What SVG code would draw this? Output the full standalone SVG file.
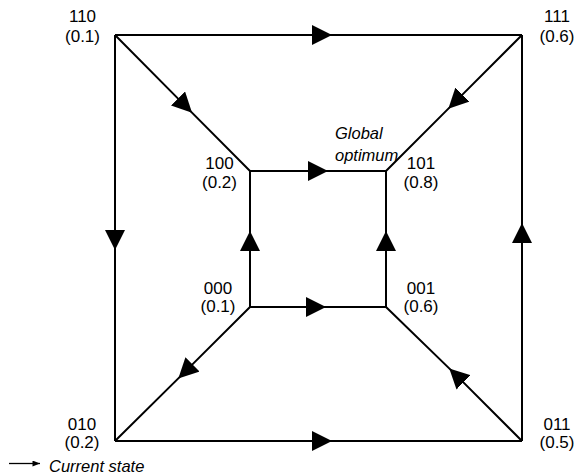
<svg xmlns="http://www.w3.org/2000/svg" width="580" height="475" viewBox="0 0 580 475">
<style>
.e{fill:none;stroke:#000;stroke-width:2;marker-mid:url(#ah)}
.t{font-family:"Liberation Sans",Arial,sans-serif;font-size:17px;fill:#000;text-anchor:middle}
.i{font-family:"Liberation Sans",Arial,sans-serif;font-size:16.5px;font-style:italic;fill:#000}
</style>
<defs>
<marker id="ah" viewBox="0 0 20 20" refX="10" refY="10" markerWidth="20" markerHeight="20" markerUnits="userSpaceOnUse" orient="auto">
<path d="M0,0 L20,10 L0,20 z" fill="#000"/>
</marker>
<marker id="sm" viewBox="0 0 10 8" refX="10" refY="4" markerWidth="9" markerHeight="6" markerUnits="userSpaceOnUse" orient="auto">
<path d="M0,0 L10,4 L0,8 z" fill="#000"/>
</marker>
</defs>
<rect width="580" height="475" fill="#fff"/>
<g id="connectors">
<path class="e" d="M115,35 L322,35 L522,35"/>
<path class="e" d="M115,441 L322,441 L522,441"/>
<path class="e" d="M115,35 L115,240 L115,441"/>
<path class="e" d="M522,441 L522,233 L522,35"/>
<path class="e" d="M250,171 L318,171 L386,171"/>
<path class="e" d="M250,307 L316,307 L386,307"/>
<path class="e" d="M250,307 L250,241 L250,171"/>
<path class="e" d="M386,307 L386,241 L386,171"/>
<path class="e" d="M115,35 L185,105.6 L250,171"/>
<path class="e" d="M522,35 L455.4,101.6 L386,171"/>
<path class="e" d="M250,307 L185.4,371.4 L115,441"/>
<path class="e" d="M522,441 L456.4,375.4 L386,307"/>
</g>
<g id="n110"><text class="t" x="82.5" y="22">110</text><text class="t" x="82.5" y="42">(0.1)</text></g>
<g id="n111"><text class="t" x="557" y="22">111</text><text class="t" x="557" y="42">(0.6)</text></g>
<g id="n100"><text class="t" x="219.5" y="168.5">100</text><text class="t" x="219.5" y="188">(0.2)</text></g>
<g id="n101"><text class="t" x="421" y="168.5">101</text><text class="t" x="421" y="188">(0.8)</text></g>
<g id="n000"><text class="t" x="218" y="293.5">000</text><text class="t" x="218" y="312">(0.1)</text></g>
<g id="n001"><text class="t" x="421" y="293.5">001</text><text class="t" x="421" y="312">(0.6)</text></g>
<g id="n010"><text class="t" x="82" y="429.5">010</text><text class="t" x="82" y="448">(0.2)</text></g>
<g id="n011"><text class="t" x="557" y="429.5">011</text><text class="t" x="557" y="448">(0.5)</text></g>
<g id="global"><text class="i" x="335" y="139">Global</text><text class="i" x="335" y="160.5">optimum</text></g>
<g id="legend">
<line x1="9" y1="463.5" x2="40" y2="463.5" stroke="#000" stroke-width="1.3" marker-end="url(#sm)"/>
<text class="i" x="49" y="471.5">Current state</text>
</g>
</svg>
